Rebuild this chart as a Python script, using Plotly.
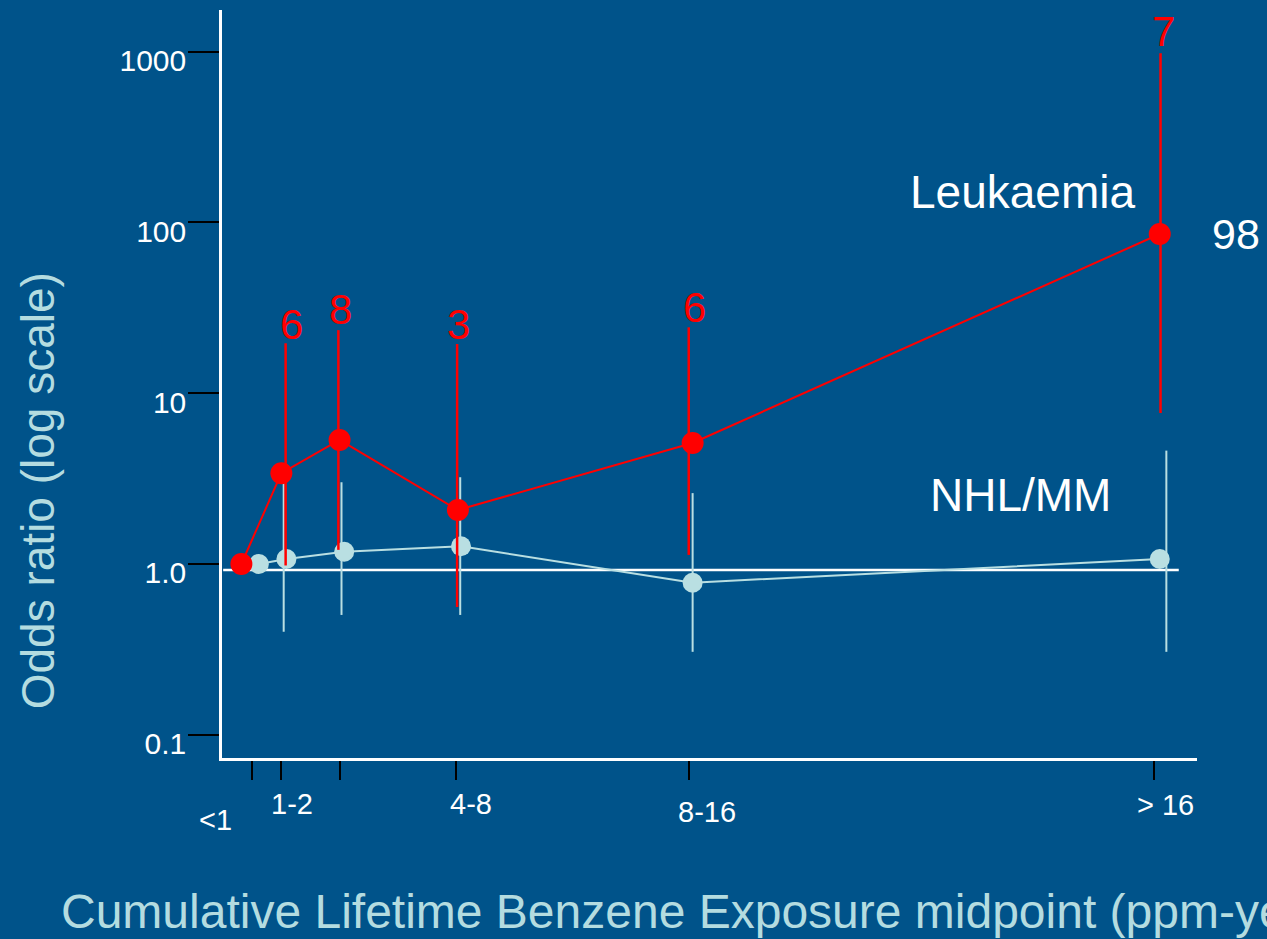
import numpy as np
import plotly.graph_objects as go

# ---------------- data ----------------
BG = "#00538a"
RED = "#ff0000"
NHL_C = "#b9dfe2"
TITLE_C = "#b4dce0"
FONT = "Liberation Sans, Arial, sans-serif"

# Leukaemia (odds ratios) at exposure midpoints (ppm-years)
leuk_x = [0.47, 1.50, 3.00, 6.05, 12.10, 24.14]
leuk_or = [1.0, 3.40, 5.32, 2.07, 5.11, 85.5]
leuk_ci_x = [1.61, 2.97, 6.03, 12.00, 24.16]
leuk_ci_lo = [0.98, 1.21, 0.56, 1.13, 7.66]
leuk_ci_hi = [19.6, 23.4, 19.4, 24.3, 977.0]
leuk_counts = ["6", "8", "3", "6", "7"]
leuk_count_x = [1.76, 3.02, 6.06, 12.14, 24.23]
leuk_count_y = [25.4, 31.1, 25.4, 31.8, 1308.0]

# NHL / MM
nhl_x = [0.92, 1.63, 3.12, 6.13, 12.10, 24.14]
nhl_or = [1.0, 1.07, 1.18, 1.27, 0.777, 1.07]
nhl_ci_x = [1.56, 3.05, 6.11, 12.10, 24.31]
nhl_ci_lo = [0.401, 0.503, 0.503, 0.306, 0.306]
nhl_ci_hi = [2.97, 3.01, 3.22, 2.60, 4.61]

# reference line (drawn at OR ~ 1)
ref_x = [0.0, 24.63]
ref_y = [0.923, 0.923]

# axis ticks / labels
x_tick_vals = [0.75, 1.5, 3, 6, 12, 24]
x_labels = ["<1", "1-2", "4-8", "8-16", "> 16"]
x_label_px = [-0.0062, 0.0723, 0.2554, 0.4974, 0.9672]   # paper x
x_label_py = [-0.083, -0.062, -0.062, -0.072, -0.063]    # paper y
y_tick_vals = [0.1, 1, 10, 100, 1000]
y_tick_text = ["0.1", "1.0", "10", "100", "1000"]

top_label = "98"
top_label_y = 85.5


def segs(xs, lo, hi):
    X, Y = [], []
    for x, a, b in zip(xs, lo, hi):
        X += [x, x, None]
        Y += [a, b, None]
    return X, Y


fig = go.Figure()

fig.add_trace(go.Scatter(x=ref_x, y=ref_y, mode="lines",
                         line=dict(color="white", width=2.5), hoverinfo="skip"))

nx, ny = segs(nhl_ci_x, nhl_ci_lo, nhl_ci_hi)
fig.add_trace(go.Scatter(x=nx, y=ny, mode="lines",
                         line=dict(color=NHL_C, width=2), hoverinfo="skip"))
fig.add_trace(go.Scatter(x=nhl_x, y=nhl_or, mode="lines+markers",
                         line=dict(color=NHL_C, width=2),
                         marker=dict(color=NHL_C, size=20, line=dict(width=0)),
                         cliponaxis=False, name="NHL/MM"))

lx, ly = segs(leuk_ci_x, leuk_ci_lo, leuk_ci_hi)
fig.add_trace(go.Scatter(x=lx, y=ly, mode="lines",
                         line=dict(color=RED, width=2.5), hoverinfo="skip"))
fig.add_trace(go.Scatter(x=leuk_x, y=leuk_or, mode="lines+markers",
                         line=dict(color=RED, width=2),
                         marker=dict(color=RED, size=22, line=dict(width=0)),
                         cliponaxis=False, name="Leukaemia"))

ann = []
for t, x, y in zip(leuk_counts, leuk_count_x, leuk_count_y):
    ann.append(dict(text=t, x=x, y=np.log10(y), xref="x", yref="y",
                    xanchor="center", yanchor="middle",
                    showarrow=False, font=dict(family=FONT, size=42, color=RED)))
ann.append(dict(text=top_label, x=1.04, y=np.log10(top_label_y), xref="paper", yref="y",
                xanchor="center", yanchor="middle",
                showarrow=False, font=dict(family=FONT, size=43, color="white")))
ann.append(dict(text="Leukaemia", x=20.6, y=np.log10(150), xref="x", yref="y",
                xanchor="center", yanchor="middle",
                showarrow=False, font=dict(family=FONT, size=46, color="white")))
ann.append(dict(text="NHL/MM", x=20.55, y=np.log10(2.54), xref="x", yref="y",
                xanchor="center", yanchor="middle",
                showarrow=False, font=dict(family=FONT, size=46, color="white")))
for t, x, y in zip(x_labels, x_label_px, x_label_py):
    ann.append(dict(text=t, x=x, y=y, xref="paper", yref="paper",
                    xanchor="center", yanchor="middle",
                    showarrow=False, font=dict(family=FONT, size=29, color="white")))
ann.append(dict(text="Odds ratio (log scale)", x=-0.1887, y=0.3566, xref="paper",
                yref="paper", textangle=-90, xanchor="center", yanchor="middle",
                showarrow=False, font=dict(family=FONT, size=46, color=TITLE_C)))
ann.append(dict(text="Cumulative Lifetime Benzene Exposure midpoint (ppm-years)",
                x=-0.1675, y=-0.205, xref="paper", yref="paper", xanchor="left",
                yanchor="middle",
                showarrow=False, font=dict(family=FONT, size=48, color=TITLE_C)))

fig.update_layout(
    width=1267, height=939,
    margin=dict(l=222, r=70, t=10, b=181, pad=0),
    paper_bgcolor=BG, plot_bgcolor=BG,
    showlegend=False,
    font=dict(family=FONT, color="white"),
    annotations=ann,
    xaxis=dict(range=[-0.03, 25.10], showline=True, linecolor="white", linewidth=2.5,
               ticks="outside", tickvals=x_tick_vals, ticklen=19, tickwidth=2,
               tickcolor="black", showticklabels=False, showgrid=False, zeroline=False),
    yaxis=dict(type="log", range=[-1.136, 3.2436], showline=True, linecolor="white",
               linewidth=2.5, ticks="outside", tickvals=y_tick_vals, ticktext=y_tick_text,
               ticklen=31, tickwidth=2, tickcolor="black", ticklabelshift=9,
               ticklabelstandoff=-4,
               tickfont=dict(family=FONT, size=30, color="white"),
               showgrid=False, zeroline=False),
)

fig.write_html("out.html")
